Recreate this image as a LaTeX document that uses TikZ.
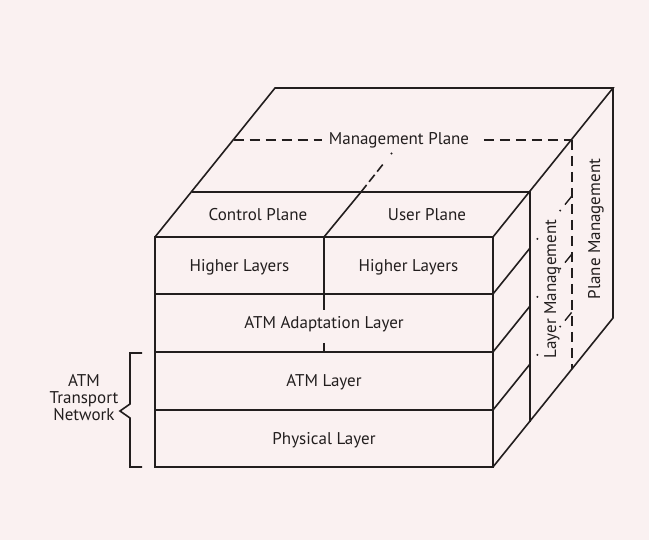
\documentclass[tikz,border=0pt]{standalone}
\usepackage{fontspec}
\setmainfont{PT Sans}
\usetikzlibrary{calc}
\definecolor{bgc}{RGB}{250,241,241}
\definecolor{ink}{RGB}{34,30,30}
\begin{document}
\begin{tikzpicture}[x=1pt,y=-1pt, line width=1.6pt, draw=ink, line join=miter,
  lbl/.style={font=\fontsize{17}{19}\selectfont, text=ink, inner sep=0pt, anchor=base},
  dsh/.style={dash pattern=on 10pt off 6pt},
  dotm/.style={fill=ink, draw=none}]
\fill[bgc] (0,0) rectangle (649,540);
\useasboundingbox (0,0) rectangle (649,540);
% cube corners
\coordinate (FTL) at (155,237); \coordinate (FTR) at (493,237);
\coordinate (FBL) at (155,467); \coordinate (FBR) at (493,467);
\coordinate (BTL) at (275,88);  \coordinate (BTR) at (613,88);
\coordinate (BBR) at (613,318);
% front face and layers
\coordinate (A1) at (155,294); \coordinate (B1) at (493,294);
\coordinate (A2) at (155,352); \coordinate (B2) at (493,352);
\coordinate (A3) at (155,410); \coordinate (B3) at (493,410);
\draw (FTL) rectangle (FBR);
\draw (A1) -- (B1) (A2) -- (B2) (A3) -- (B3);
% front centre divider
\coordinate (C0) at (324,237); \coordinate (C1) at (324,310);
\coordinate (C2) at (324,343); \coordinate (C3) at (324,352);
\draw (C0) -- (C1) (C2) -- (C3);
% top and right outline
\draw (FTL) -- (BTL) -- (BTR) -- (FTR);
\draw (BTR) -- (BBR) -- (FBR);
% plane boundary at depth f1
\coordinate (P1L) at (191.6,192); \coordinate (P1R) at (530,192);
\coordinate (P1B) at (530,422);
\draw (P1L) -- (P1R) -- (P1B);
% control/user divider on top face
\coordinate (T1) at (361,192); \coordinate (T2) at (391.5,153.5);
\draw (C0) -- (T1);
\draw[dash pattern=on 9pt off 4pt on 9pt off 4pt on 9pt off 5pt] (T1) -- ($(T1)!0.8!(T2)$);
\fill[dotm] (T2) circle (1.1pt);
% management plane (depth f2)
\coordinate (M1) at (233.6,140); \coordinate (M2) at (572,140);
\coordinate (M3) at (572,369.4);
\node[lbl, anchor=center] (mp) at (399,140) {\vphantom{Mg}Management Plane};
\draw[dsh] (M1) -- ([xshift=-6pt]mp.west);
\draw[dsh] ([xshift=14pt]mp.east) -- (M2);
\draw[dsh] (M2) -- (M3);
% layer lines on right face
\foreach \n/\yy in {1/294,2/352,3/410}{
  \coordinate (R\n) at (493,\yy);
  \coordinate (S\n) at (613,\yy-149);
  \draw ($(R\n)!0.0!(S\n)$) -- ($(R\n)!0.31!(S\n)$);
  \fill[dotm] ($(R\n)!0.37!(S\n)$) circle (1.1pt);
  \fill[dotm] ($(R\n)!0.56!(S\n)$) circle (1.1pt);
  \draw[line width=1.4pt] ($(R\n)!0.60!(S\n)$) -- ($(R\n)!0.655!(S\n)$);
}
% labels
\node[lbl] (cp) at (258,221) {Control Plane};
\node[lbl] (up) at (427,221) {User Plane};
\node[lbl] (hl1) at (239.5,272) {Higher Layers};
\node[lbl] (hl2) at (408.5,272) {Higher Layers};
\node[lbl] (aal) at (324,329) {ATM Adaptation Layer};
\node[lbl] (atm) at (324,387) {ATM Layer};
\node[lbl] (phy) at (324,445) {Physical Layer};
\node[lbl, rotate=90] (lm) at (556,289) {Layer Management};
\node[lbl, rotate=90] (pm) at (600,229) {Plane Management};
\node[lbl, anchor=center, align=center, font=\fontsize{17}{17}\selectfont] (tn) at (84,398) {ATM\\Transport\\Network};
% brace
\coordinate (Q1) at (142,353); \coordinate (Q2) at (142,467);
\draw (Q1) -- (130,353) -- (130,404) -- (120,411) -- (130,418) -- (130,467) -- (Q2);
\end{tikzpicture}
\end{document}
